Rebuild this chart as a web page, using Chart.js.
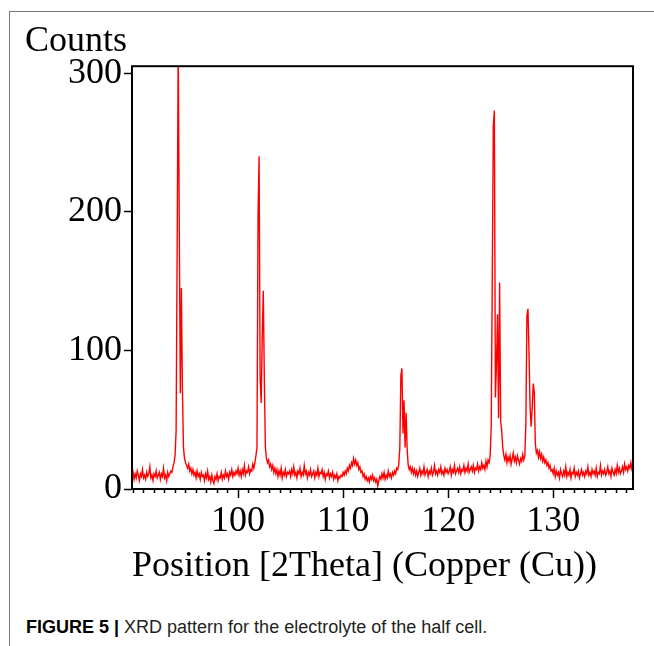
<!DOCTYPE html>
<html>
<head>
<meta charset="utf-8">
<script src="https://cdn.jsdelivr.net/npm/chart.js@4.4.0/dist/chart.umd.min.js"></script>
<style>
  html, body { margin: 0; padding: 0; background: #fff; }
  #page { position: relative; width: 654px; height: 646px; overflow: hidden; }
  #frameTop { position: absolute; left: 9px; top: 11px; width: 645px; height: 1px; background: #777; }
  #frameLeft { position: absolute; left: 9px; top: 11px; width: 1px; height: 635px; background: #777; }
  #xrd { position: absolute; left: 0; top: 0; }
  #caption { position: absolute; left: 26px; top: 617px; font: 18px/20px 'Liberation Sans', Arial, sans-serif; color: #231f20; white-space: nowrap; }
  #caption b { color: #000; }
</style>
</head>
<body>
<div id="page">
  <div id="frameTop"></div>
  <div id="frameLeft"></div>
  <canvas id="xrd" width="654" height="600"></canvas>
  <div id="caption"><b>FIGURE 5 |</b> XRD pattern for the electrolyte of the half cell.</div>
</div>
<script>
// scan: 2theta from 89.9 deg, step 0.1 deg (counts)
var scanStep = 0.1;

var counts_089 = [9, 12, 7, 11, 8, 13, 10, 6, 11, 9, 14, 8, 10, 7, 12, 9, 11, 16, 8, 10,
  6, 11, 9, 13, 8, 10, 12, 7, 11, 9, 15, 8, 10, 6, 12, 9, 11, 13, 12, 16,
  19, 24, 42, 172, 320, 193, 69, 145, 72, 30];
var counts_094 = [22, 19, 17, 15, 18, 13, 15, 11, 14, 10, 12, 8, 13, 9, 11, 7, 12, 9, 10, 6,
  11, 8, 13, 7, 9, 5, 10, 6, 4, 9, 7, 11, 6, 9, 8, 12, 7, 10, 8, 13,
  9, 11, 7, 12, 10, 14, 9, 12, 10, 13];
var counts_099 = [11, 15, 10, 13, 9, 14, 11, 17, 10, 13, 12, 16, 11, 14, 13, 18, 15, 19, 24, 30,
  197, 240, 80, 62, 110, 143, 78, 30, 22, 19, 21, 16, 18, 14, 17, 12, 15, 11, 14, 9,
  13, 10, 15, 8, 12, 10, 14, 9, 12, 11];
var counts_104 = [13, 9, 14, 11, 16, 10, 12, 8, 13, 11, 15, 9, 12, 10, 17, 11, 13, 8, 12, 10,
  14, 9, 11, 13, 8, 12, 10, 15, 9, 12, 11, 14, 9, 12, 7, 11, 10, 13, 8, 11,
  9, 12, 7, 10, 8, 11, 6, 9, 8, 10];
var counts_109 = [9, 12, 10, 13, 11, 15, 13, 17, 15, 19, 17, 22, 18, 21, 17, 19, 14, 16, 12, 13,
  9, 11, 7, 9, 6, 8, 5, 9, 7, 10, 6, 8, 5, 7, 2, 6, 9, 7, 11, 8,
  12, 7, 10, 8, 13, 9, 11, 8, 12, 10];
var counts_114 = [13, 11, 15, 14, 18, 30, 82, 87, 40, 64, 30, 55, 28, 17, 14, 16, 12, 15, 11, 14,
  10, 13, 9, 12, 15, 10, 13, 11, 16, 10, 12, 14, 9, 13, 11, 15, 10, 12, 17, 11,
  13, 10, 14, 12, 16, 11, 13, 10, 15, 12];
var counts_119 = [14, 11, 13, 16, 10, 14, 12, 17, 11, 13, 15, 12, 16, 11, 14, 13, 17, 12, 15, 13,
  18, 12, 14, 16, 13, 17, 12, 15, 14, 18, 13, 16, 14, 19, 15, 17, 14, 20, 16, 21,
  19, 24, 45, 149, 262, 273, 66, 90, 126, 51];
var counts_124 = [149, 49, 42, 30, 24, 21, 25, 19, 23, 20, 24, 18, 22, 26, 20, 23, 19, 24, 21, 18,
  22, 20, 25, 21, 24, 47, 125, 130, 98, 60, 45, 58, 76, 70, 33, 26, 28, 23, 27, 22,
  25, 20, 23, 19, 21, 17, 19, 15, 17, 13];
var counts_129 = [14, 11, 15, 9, 13, 10, 12, 8, 14, 11, 9, 13, 10, 16, 9, 12, 10, 14, 8, 12,
  11, 15, 9, 12, 10, 13, 8, 11, 14, 10, 12, 9, 13, 11, 16, 10, 12, 9, 14, 11,
  13, 10, 15, 9, 12, 11, 17, 10, 13, 11];
var counts_134 = [14, 10, 12, 16, 11, 13, 9, 15, 12, 10, 14, 11, 17, 12, 15, 11, 13, 16, 12, 18,
  14, 16, 13, 17, 15, 19, 14, 16];

var blockStarts = [89.9, 94.9, 99.9, 104.9, 109.9, 114.9, 119.9, 124.9, 129.9, 134.9];
var blockCounts = [counts_089, counts_094, counts_099, counts_104, counts_109,
  counts_114, counts_119, counts_124, counts_129, counts_134];

var yTicks = [0, 100, 200, 300];
var xLabelTicks = [100, 110, 120, 130];

var points = [];
blockCounts.forEach(function (arr, b) {
  arr.forEach(function (c, i) {
    points.push({ x: Math.round((blockStarts[b] + i * scanStep) * 10) / 10, y: c });
  });
});

var serif = "'Liberation Serif', 'Times New Roman', serif";

// cadre noir autour de la zone de tracé
var frameBox = {
  id: 'frameBox',
  afterDatasetsDraw: function (chart) {
    var a = chart.chartArea, c = chart.ctx;
    c.save();
    c.strokeStyle = '#000';
    c.lineWidth = 2;
    c.strokeRect(a.left, a.top, a.right - a.left, a.bottom - a.top);
    c.restore();
  }
};

new Chart(document.getElementById('xrd'), {
  type: 'line',
  data: {
    datasets: [{
      data: points,
      borderColor: '#ff0000',
      borderWidth: 1.4,
      pointRadius: 0,
      tension: 0,
      fill: false
    }]
  },
  options: {
    responsive: false,
    animation: false,
    layout: { padding: { left: 25, right: 21, top: 0, bottom: 11 } },
    plugins: {
      legend: { display: false },
      tooltip: { enabled: false },
      title: {
        display: true,
        text: 'Counts',
        align: 'start',
        color: '#000',
        font: { family: serif, size: 36, weight: 'normal' },
        padding: { top: 20, bottom: 3 }
      }
    },
    scales: {
      x: {
        type: 'linear',
        min: 89.9,
        max: 137.6,
        afterFit: function (s) { s.height = 100; },
        border: { display: false },
        grid: {
          drawOnChartArea: false,
          tickLength: 9,
          tickWidth: 1.5,
          tickColor: '#000',
          tickBorderDash: function (c) {
            return (c.tick && xLabelTicks.indexOf(c.tick.value) >= 0) ? [] : [4, 20];
          }
        },
        ticks: {
          stepSize: 1,
          autoSkip: false,
          maxRotation: 0,
          minRotation: 0,
          includeBounds: false,
          padding: 2,
          color: '#000',
          font: { family: serif, size: 36 },
          callback: function (v) { return xLabelTicks.indexOf(v) >= 0 ? String(v) : ''; }
        },
        title: {
          display: true,
          align: 'start',
          text: 'Position [2Theta] (Copper (Cu))',
          color: '#000',
          font: { family: serif, size: 36 },
          padding: { top: 0, bottom: 1 }
        }
      },
      y: {
        min: 0,
        max: 305,
        afterFit: function (s) { s.width = 107; },
        border: { display: false },
        grid: { drawOnChartArea: false, tickLength: 8, tickWidth: 1.5, tickColor: '#000' },
        afterBuildTicks: function (s) { s.ticks = yTicks.map(function (v) { return { value: v }; }); },
        ticks: {
          padding: 2,
          color: '#000',
          font: { family: serif, size: 36 }
        }
      }
    }
  },
  plugins: [frameBox]
});
</script>
</body>
</html>
